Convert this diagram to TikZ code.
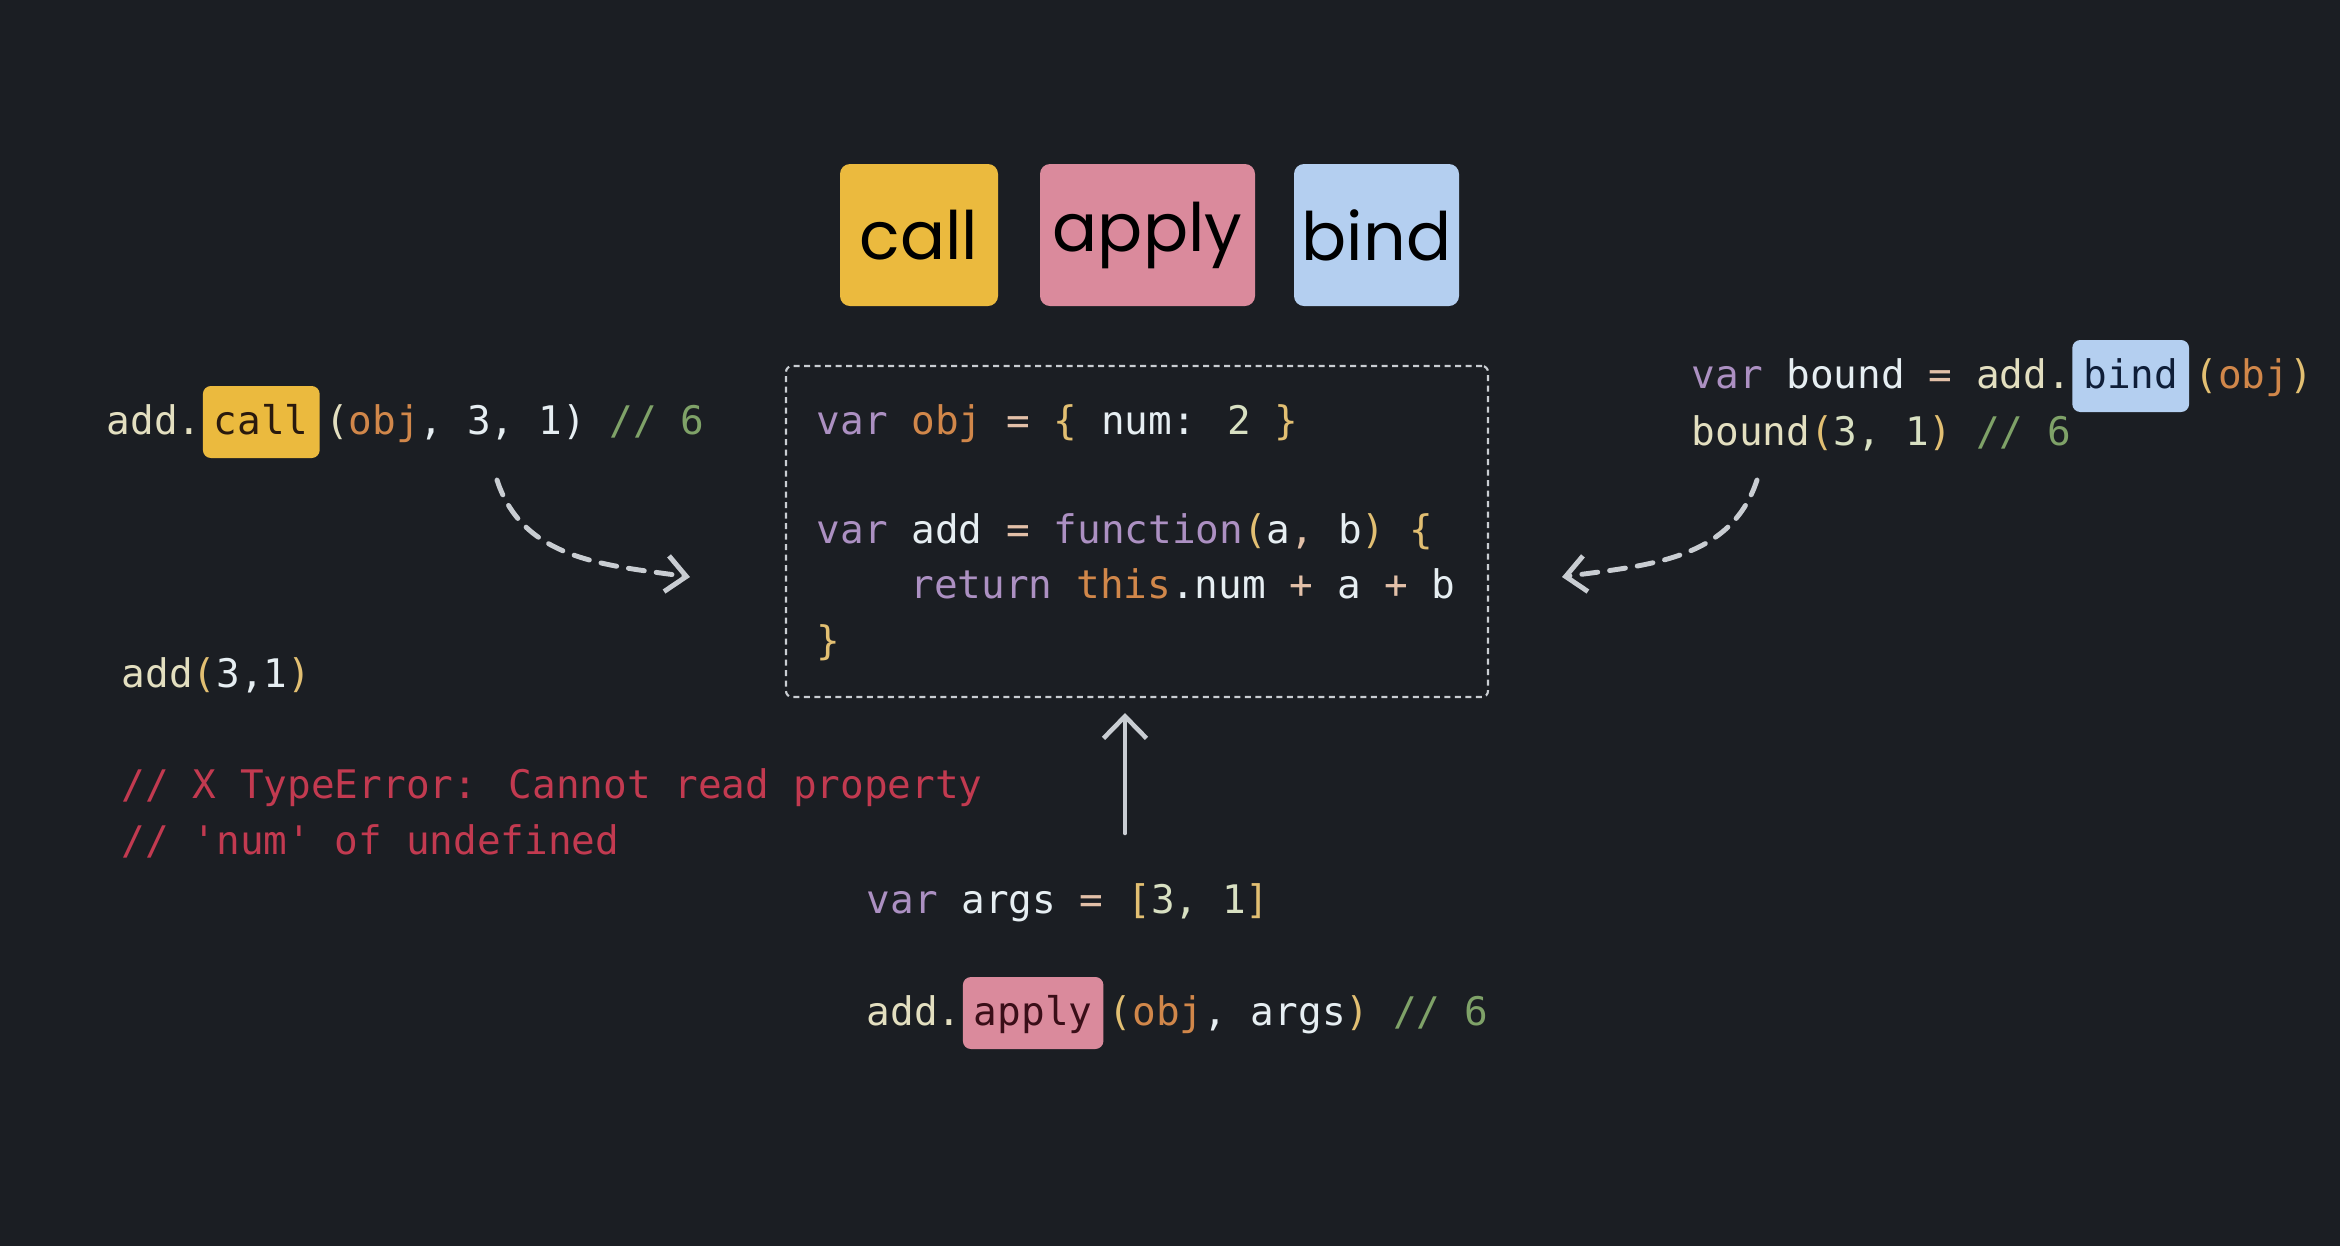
\documentclass[tikz,border=0pt]{standalone}
\usepackage{fontspec}
\usetikzlibrary{arrows.meta, positioning}
\newfontfamily\codefont{DejaVu Sans Mono}
\newfontfamily\handfont{Poppins}

\definecolor{bgc}{HTML}{1B1E23}
\definecolor{linec}{HTML}{C9CDD2}
\definecolor{kwc}{HTML}{AC90C2}
\definecolor{objc}{HTML}{D1874A}
\definecolor{puc}{HTML}{E3C0A8}
\definecolor{brc}{HTML}{E2BF72}
\definecolor{idc}{HTML}{E6EEF2}
\definecolor{nmc}{HTML}{D8E0C2}
\definecolor{fnc}{HTML}{E3DFC0}
\definecolor{cmc}{HTML}{7FA268}
\definecolor{errc}{HTML}{C23A50}
\definecolor{callY}{HTML}{EBBA3E}
\definecolor{applyP}{HTML}{DA8A9C}
\definecolor{bindB}{HTML}{B4CFF0}
\definecolor{callT}{HTML}{2A1A0E}
\definecolor{applyT}{HTML}{3A0E18}
\definecolor{bindT}{HTML}{0F1E38}

\newcommand{\ckw}[1]{\textcolor{kwc}{#1}}
\newcommand{\cob}[1]{\textcolor{objc}{#1}}
\newcommand{\cpu}[1]{\textcolor{puc}{#1}}
\newcommand{\cbr}[1]{\textcolor{brc}{#1}}
\newcommand{\cid}[1]{\textcolor{idc}{#1}}
\newcommand{\cnm}[1]{\textcolor{nmc}{#1}}
\newcommand{\cfn}[1]{\textcolor{fnc}{#1}}
\newcommand{\ccm}[1]{\textcolor{cmc}{#1}}

\tikzset{
  code/.style={inner sep=0pt, anchor=base west, text=idc,
    font=\codefont\fontsize{11.2}{13}\selectfont},
  hl/.style={code, rounded corners=0.08cm, inner xsep=0.11cm, inner ysep=0.15cm,
    text height=0.33cm, text depth=0.09cm},
  tag/.style={rounded corners=0.1cm, inner sep=0pt, minimum height=1.42cm,
    text=black, font=\handfont\fontsize{19}{22}\selectfont},
  codebox/.style={draw=linec, line width=0.6pt, dash pattern=on 0.6mm off 0.45mm,
    rounded corners=0.06cm, minimum width=7.02cm, minimum height=3.31cm},
  dasharrow/.style={draw=linec, line width=1.4pt, line cap=round,
    dash pattern=on 1.6mm off 1.2mm, -{Straight Barb[length=0.2cm, width=0.36cm]}},
  uparrow/.style={draw=linec, line width=1.3pt, line cap=round,
    -{Straight Barb[length=0.22cm, width=0.43cm]}}
}

\begin{document}
\begin{tikzpicture}
    \def\cw{0.2345}

    \useasboundingbox (0,0) rectangle (23.4,-12.46);
    \fill[bgc] (0,0) rectangle (23.4,-12.46);

    % the three tags
    \node[tag, fill=callY, minimum width=1.58cm] (tagCall) at (9.19,-2.35) {call};
    \node[tag, fill=applyP, minimum width=2.15cm] (tagApply) at (11.475,-2.35) {apply};
    \node[tag, fill=bindB, minimum width=1.65cm] (tagBind) at (13.765,-2.35) {bind};

    % function in the middle
    \node[codebox] (codebox) at (11.37,-5.315) {};
    \node[code] (ln1) at (8.16,-4.34) {\ckw{var} \cob{obj} \cpu{=} \cbr{\{} \cid{num:} \cnm{2} \cbr{\}}};
    \node[code] (ln2) at (8.16,-5.43) {\ckw{var} \cid{add} \cpu{=} \ckw{function}\cbr{(}\cid{a}\cpu{,} \cid{b}\cbr{)} \cbr{\{}};
    \node[code] (ln3) at ({8.16+4*\cw},-5.98) {\ckw{return} \cob{this}\cid{.num} \cpu{+} \cid{a} \cpu{+} \cid{b}};
    \node[code] (ln4) at (8.16,-6.54) {\cbr{\}}};

    % call
    \node[code] (callA) at (1.06,-4.34) {\cfn{add.}};
    \node[hl, fill=callY, text=callT] (callHl) at (callA.base east) {call};
    \node[code, xshift=0.04cm] (callB) at (callHl.base east) {\cfn{(}\cob{obj}\cid{, 3, 1)} \ccm{// 6}};

    % plain call
    \node[code] (plain) at (1.21,-6.87) {\cfn{add}\cbr{(}\cid{3,1}\cbr{)}};
    \node[code, text=errc] (err1) at (1.21,-7.98) {// X TypeError: Cannot read property};
    \node[code, text=errc] (err2) at (1.21,-8.54) {// \textquotesingle num\textquotesingle{} of undefined};

    % apply
    \node[code] (args) at (8.66,-9.13) {\ckw{var} \cid{args} \cpu{=} \cbr{[}\cnm{3, 1}\cbr{]}};
    \node[code] (applyA) at (8.66,-10.25) {\cfn{add.}};
    \node[hl, fill=applyP, text=applyT] (applyHl) at (applyA.base east) {apply};
    \node[code, xshift=0.04cm] (applyB) at (applyHl.base east) {\cbr{(}\cob{obj}\cid{, args}\cbr{)} \ccm{// 6}};

    % bind
    \node[code] (bindA) at (16.91,-3.88) {\ckw{var} \cid{bound} \cpu{=} \cfn{add.}};
    \node[hl, fill=bindB, text=bindT] (bindHl) at (bindA.base east) {bind};
    \node[code, xshift=0.04cm] (bindB) at (bindHl.base east) {\cbr{(}\cob{obj}\cbr{)}};
    \node[code] (bound) at (16.91,-4.45) {\cfn{bound}\cbr{(}\cnm{3, 1}\cbr{)} \ccm{// 6}};

    % arrows
    \coordinate (callTail) at (4.97,-4.80);
    \coordinate (callTip) at (6.90,-5.77);
    \coordinate (bindTail) at (17.57,-4.80);
    \coordinate (bindTip) at (15.62,-5.77);
    \coordinate (argsTail) at (11.25,-8.33);

    \draw[dasharrow] (callTail) to[out=-72, in=172] (callTip);
    \draw[dasharrow] (bindTail) to[out=-108, in=8] (bindTip);
    \draw[uparrow, shorten >=0.15cm] (argsTail) -- (argsTail |- codebox.south);
\end{tikzpicture}
\end{document}
